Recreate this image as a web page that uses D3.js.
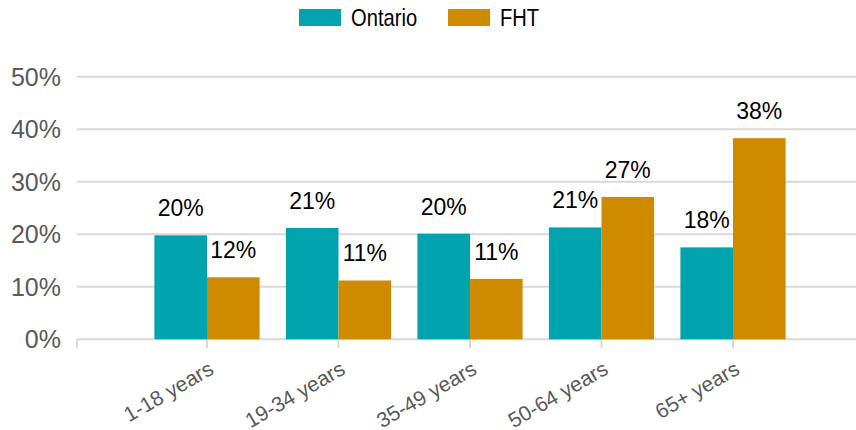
<!DOCTYPE html>
<html>
<head>
<meta charset="utf-8">
<script src="https://cdn.jsdelivr.net/npm/d3@7"></script>
<style>
  body { margin: 0; background: #fff; }
  svg { display: block; }
</style>
</head>
<body>
<svg id="chart" width="856" height="430"></svg>
<script>
// Age group share, Ontario vs FHT
const categories = ['1-18 years', '19-34 years', '35-49 years', '50-64 years', '65+ years'];
const seriesNames = ['Ontario', 'FHT'];
const ontario = [0.198, 0.212, 0.201, 0.213, 0.175];
const fht = [0.118, 0.112, 0.115, 0.271, 0.383];
const labelsOntario = ['20%', '21%', '20%', '21%', '18%'];
const labelsFht = ['12%', '11%', '11%', '27%', '38%'];
const yTicks = [0, 0.1, 0.2, 0.3, 0.4, 0.5];

const COLORS = { Ontario: '#00a3ae', FHT: '#cf8b00' };
const GRID = '#d9d9d9';
const FONT = '"Liberation Sans", Arial, sans-serif';

const svg = d3.select('#chart');
const plotLeft = 77, plotRight = 856;

const y = d3.scaleLinear().domain([0, 0.5]).range([339.3, 76.7]);
const x = d3.scaleBand().domain(categories).range([141.25, 798.75])
    .paddingInner(0.2).paddingOuter(0.1);
const xs = d3.scaleBand().domain(seriesNames).range([0, x.bandwidth()]);

// gridlines
svg.append('g').selectAll('line')
    .data(yTicks)
    .join('line')
    .attr('x1', plotLeft).attr('x2', plotRight)
    .attr('y1', d => y(d)).attr('y2', d => y(d))
    .attr('stroke', GRID).attr('stroke-width', 2);

// y tick labels
svg.append('g').selectAll('text')
    .data(yTicks)
    .join('text')
    .attr('x', 61).attr('y', d => y(d))
    .attr('dy', '0.36em')
    .attr('text-anchor', 'end')
    .attr('font-family', FONT).attr('font-size', 25)
    .attr('fill', '#595959')
    .text(d3.format('.0%'));

// x ticks: left edge + group centres
const tickXs = [plotLeft].concat(categories.map(c => x(c) + x.bandwidth() / 2));
svg.append('g').selectAll('line')
    .data(tickXs)
    .join('line')
    .attr('x1', d => d).attr('x2', d => d)
    .attr('y1', y(0)).attr('y2', y(0) + 9)
    .attr('stroke', GRID).attr('stroke-width', 2);

// bars
const rows = categories.map((c, i) => ({
    cat: c,
    vals: [
        { key: 'Ontario', v: ontario[i], label: labelsOntario[i] },
        { key: 'FHT', v: fht[i], label: labelsFht[i] }
    ]
}));

const groups = svg.append('g').selectAll('g')
    .data(rows)
    .join('g')
    .attr('transform', d => `translate(${x(d.cat)},0)`);

groups.selectAll('rect')
    .data(d => d.vals)
    .join('rect')
    .attr('x', d => xs(d.key))
    .attr('width', xs.bandwidth())
    .attr('y', d => y(d.v))
    .attr('height', d => y(0) - y(d.v))
    .attr('fill', d => COLORS[d.key]);

groups.selectAll('text')
    .data(d => d.vals)
    .join('text')
    .attr('x', d => xs(d.key) + xs.bandwidth() / 2)
    .attr('y', d => y(d.v) - 19)
    .attr('text-anchor', 'middle')
    .attr('font-family', FONT).attr('font-size', 23)
    .attr('fill', '#000')
    .text(d => d.label);

// category labels
svg.append('g').selectAll('text')
    .data(categories)
    .join('text')
    .attr('transform', d => `translate(${x(d) + x.bandwidth() / 2 + 8},373) rotate(-30)`)
    .attr('text-anchor', 'end')
    .attr('font-family', FONT).attr('font-size', 21)
    .attr('fill', '#595959')
    .text(d => d);

// legend (text is condensed in the original)
const legendX = [299, 448];
const legend = svg.append('g').selectAll('g')
    .data(seriesNames)
    .join('g')
    .attr('transform', (d, i) => `translate(${legendX[i]},9)`);
legend.append('rect')
    .attr('width', 42).attr('height', 17)
    .attr('fill', d => COLORS[d]);
legend.append('text')
    .attr('transform', 'translate(52,17) scale(0.84,1)')
    .attr('font-family', FONT)
    .attr('font-size', 24)
    .attr('fill', '#000')
    .text(d => d);
</script>
</body>
</html>
